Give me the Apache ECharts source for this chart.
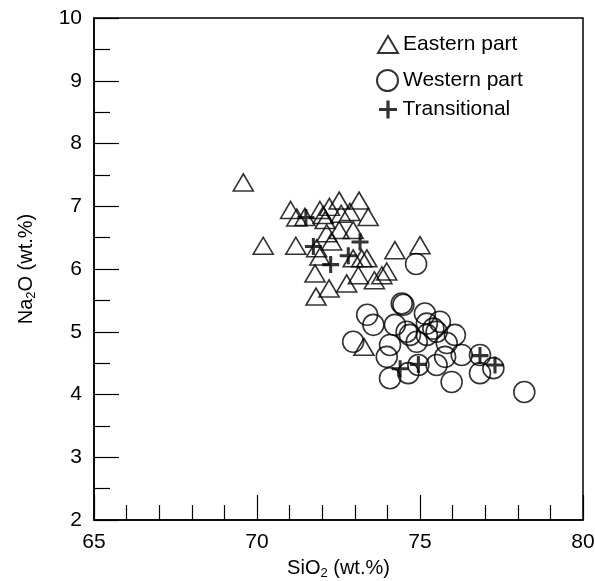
<!DOCTYPE html>
<html>
<head>
<meta charset="utf-8">
<script src="https://cdn.jsdelivr.net/npm/echarts@6/dist/echarts.min.js"></script>
<style>
  html, body { margin: 0; padding: 0; background: #fff; }
  #chart { width: 595px; height: 581px; }
</style>
</head>
<body>
<div id="chart"></div>
<script>
// SiO2 / Na2O (wt.%)
var eastSiO2 = [69.58, 70.19, 71.03, 71.19, 71.22, 71.47, 71.93, 72.03, 72.09, 72.22, 72.52, 72.58, 72.85, 73.13, 73.41,
                72.14, 72.29, 72.52, 72.95, 71.83, 71.93, 71.78, 72.21, 71.81, 72.75, 73.11, 72.95, 73.21, 73.37, 73.60,
                73.83, 73.98, 74.23, 75.00, 73.28];
var eastNa2O = [7.38, 6.37, 6.94, 6.37, 6.82, 6.83, 6.94, 6.86, 6.78, 6.99, 7.09, 6.88, 6.91, 7.09, 6.83,
                6.57, 6.44, 6.62, 6.62, 6.33, 6.20, 5.93, 5.69, 5.56, 5.77, 5.90, 6.17, 6.17, 6.17, 5.82,
                5.90, 5.96, 6.30, 6.38, 4.76];

var westSiO2 = [74.88, 73.38, 73.57, 74.44, 74.49, 75.15, 74.23, 74.59, 72.95, 73.98, 74.08, 74.90, 75.21, 75.41, 75.61,
                75.51, 76.07, 75.82, 75.77, 76.28, 75.51, 74.95, 74.64, 74.08, 75.97, 76.84, 76.84, 77.25, 78.20, 74.69,
                75.21];
var westNa2O = [6.08, 5.27, 5.11, 5.45, 5.43, 5.29, 5.11, 5.00, 4.84, 4.60, 4.79, 4.84, 5.13, 5.05, 5.16,
                5.00, 4.95, 4.82, 4.60, 4.63, 4.47, 4.47, 4.34, 4.26, 4.20, 4.63, 4.34, 4.42, 4.04, 4.95,
                4.95];

var transSiO2 = [71.50, 71.73, 72.26, 72.80, 73.16, 74.39, 74.95, 76.84, 77.30];
var transNa2O = [6.82, 6.36, 6.07, 6.21, 6.43, 4.41, 4.48, 4.62, 4.47];

function pairs(xs, ys) {
    var out = [];
    for (var i = 0; i < xs.length; i = i + 1) {
        out.push([xs[i], ys[i]]);
    }
    return out;
}

var FONT = 'Liberation Sans, Arial, Helvetica, sans-serif';
var PLUS = 'path://M41,0h18v41h41v18h-41v41h-18v-41h-41v-18h41z';

var legendText = { fontSize: 21, color: '#000', fontFamily: FONT };
var nameRich = {
    n: { fontSize: 20, fontFamily: FONT, color: '#000' },
    s: { fontSize: 13, fontFamily: FONT, color: '#000', padding: [10, 0, 0, 0] }
};

var chart = echarts.init(document.getElementById('chart'));
chart.setOption({
    animation: false,
    backgroundColor: '#fff',
    textStyle: { fontFamily: FONT, color: '#000' },
    grid: {
        left: 94, right: 12, top: 18, bottom: 61,
        outerBoundsMode: 'none',
        containLabel: false,
        show: true,
        borderColor: '#000',
        borderWidth: 1.5,
        backgroundColor: 'transparent'
    },
    legend: [{
        data: ['Eastern part'],
        left: 377, top: 34, padding: 0,
        itemWidth: 20, itemHeight: 17,
        selectedMode: false,
        textStyle: legendText
    }, {
        data: ['Western part'],
        left: 376, top: 69, padding: 0,
        itemWidth: 21, itemHeight: 21,
        selectedMode: false,
        textStyle: legendText
    }, {
        data: ['Transitional'],
        left: 379, top: 99, padding: 0,
        itemWidth: 19, itemHeight: 18,
        selectedMode: false,
        textStyle: legendText
    }],
    xAxis: {
        type: 'value',
        min: 65, max: 80, interval: 5,
        name: '{n|SiO}{s|2}{n| (wt.%)}',
        nameLocation: 'middle',
        nameGap: 37,
        nameTextStyle: { rich: nameRich },
        axisLine: { lineStyle: { color: '#000', width: 1.5 } },
        axisTick: { inside: true, length: 25, lineStyle: { color: '#000', width: 1.2 } },
        minorTick: { show: true, splitNumber: 5, length: 15, lineStyle: { color: '#000', width: 1.2 } },
        axisLabel: { fontSize: 21, color: '#000', margin: 12, fontFamily: FONT },
        splitLine: { show: false }
    },
    yAxis: {
        type: 'value',
        min: 2, max: 10, interval: 1,
        name: '{n|Na}{s|2}{n|O (wt.%)}',
        nameLocation: 'middle',
        nameGap: 56,
        nameRotate: 90,
        nameTextStyle: { rich: nameRich },
        axisLine: { lineStyle: { color: '#000', width: 1.5 } },
        axisTick: { inside: true, length: 25, lineStyle: { color: '#000', width: 1.2 } },
        minorTick: { show: true, splitNumber: 2, length: 16, lineStyle: { color: '#000', width: 1.2 } },
        axisLabel: { fontSize: 21, color: '#000', margin: 12, fontFamily: FONT },
        splitLine: { show: false }
    },
    series: [{
        name: 'Western part',
        type: 'scatter',
        symbol: 'circle',
        symbolSize: 21,
        itemStyle: { color: 'rgba(0,0,0,0)', borderColor: '#000', borderWidth: 1.6 },
        data: pairs(westSiO2, westNa2O)
    }, {
        name: 'Eastern part',
        type: 'scatter',
        symbol: 'triangle',
        symbolSize: [20, 17],
        itemStyle: { color: 'rgba(0,0,0,0)', borderColor: '#000', borderWidth: 1.6 },
        data: pairs(eastSiO2, eastNa2O)
    }, {
        name: 'Transitional',
        type: 'scatter',
        symbol: PLUS,
        symbolSize: 17,
        itemStyle: { color: '#000' },
        data: pairs(transSiO2, transNa2O)
    }]
});
</script>
</body>
</html>
